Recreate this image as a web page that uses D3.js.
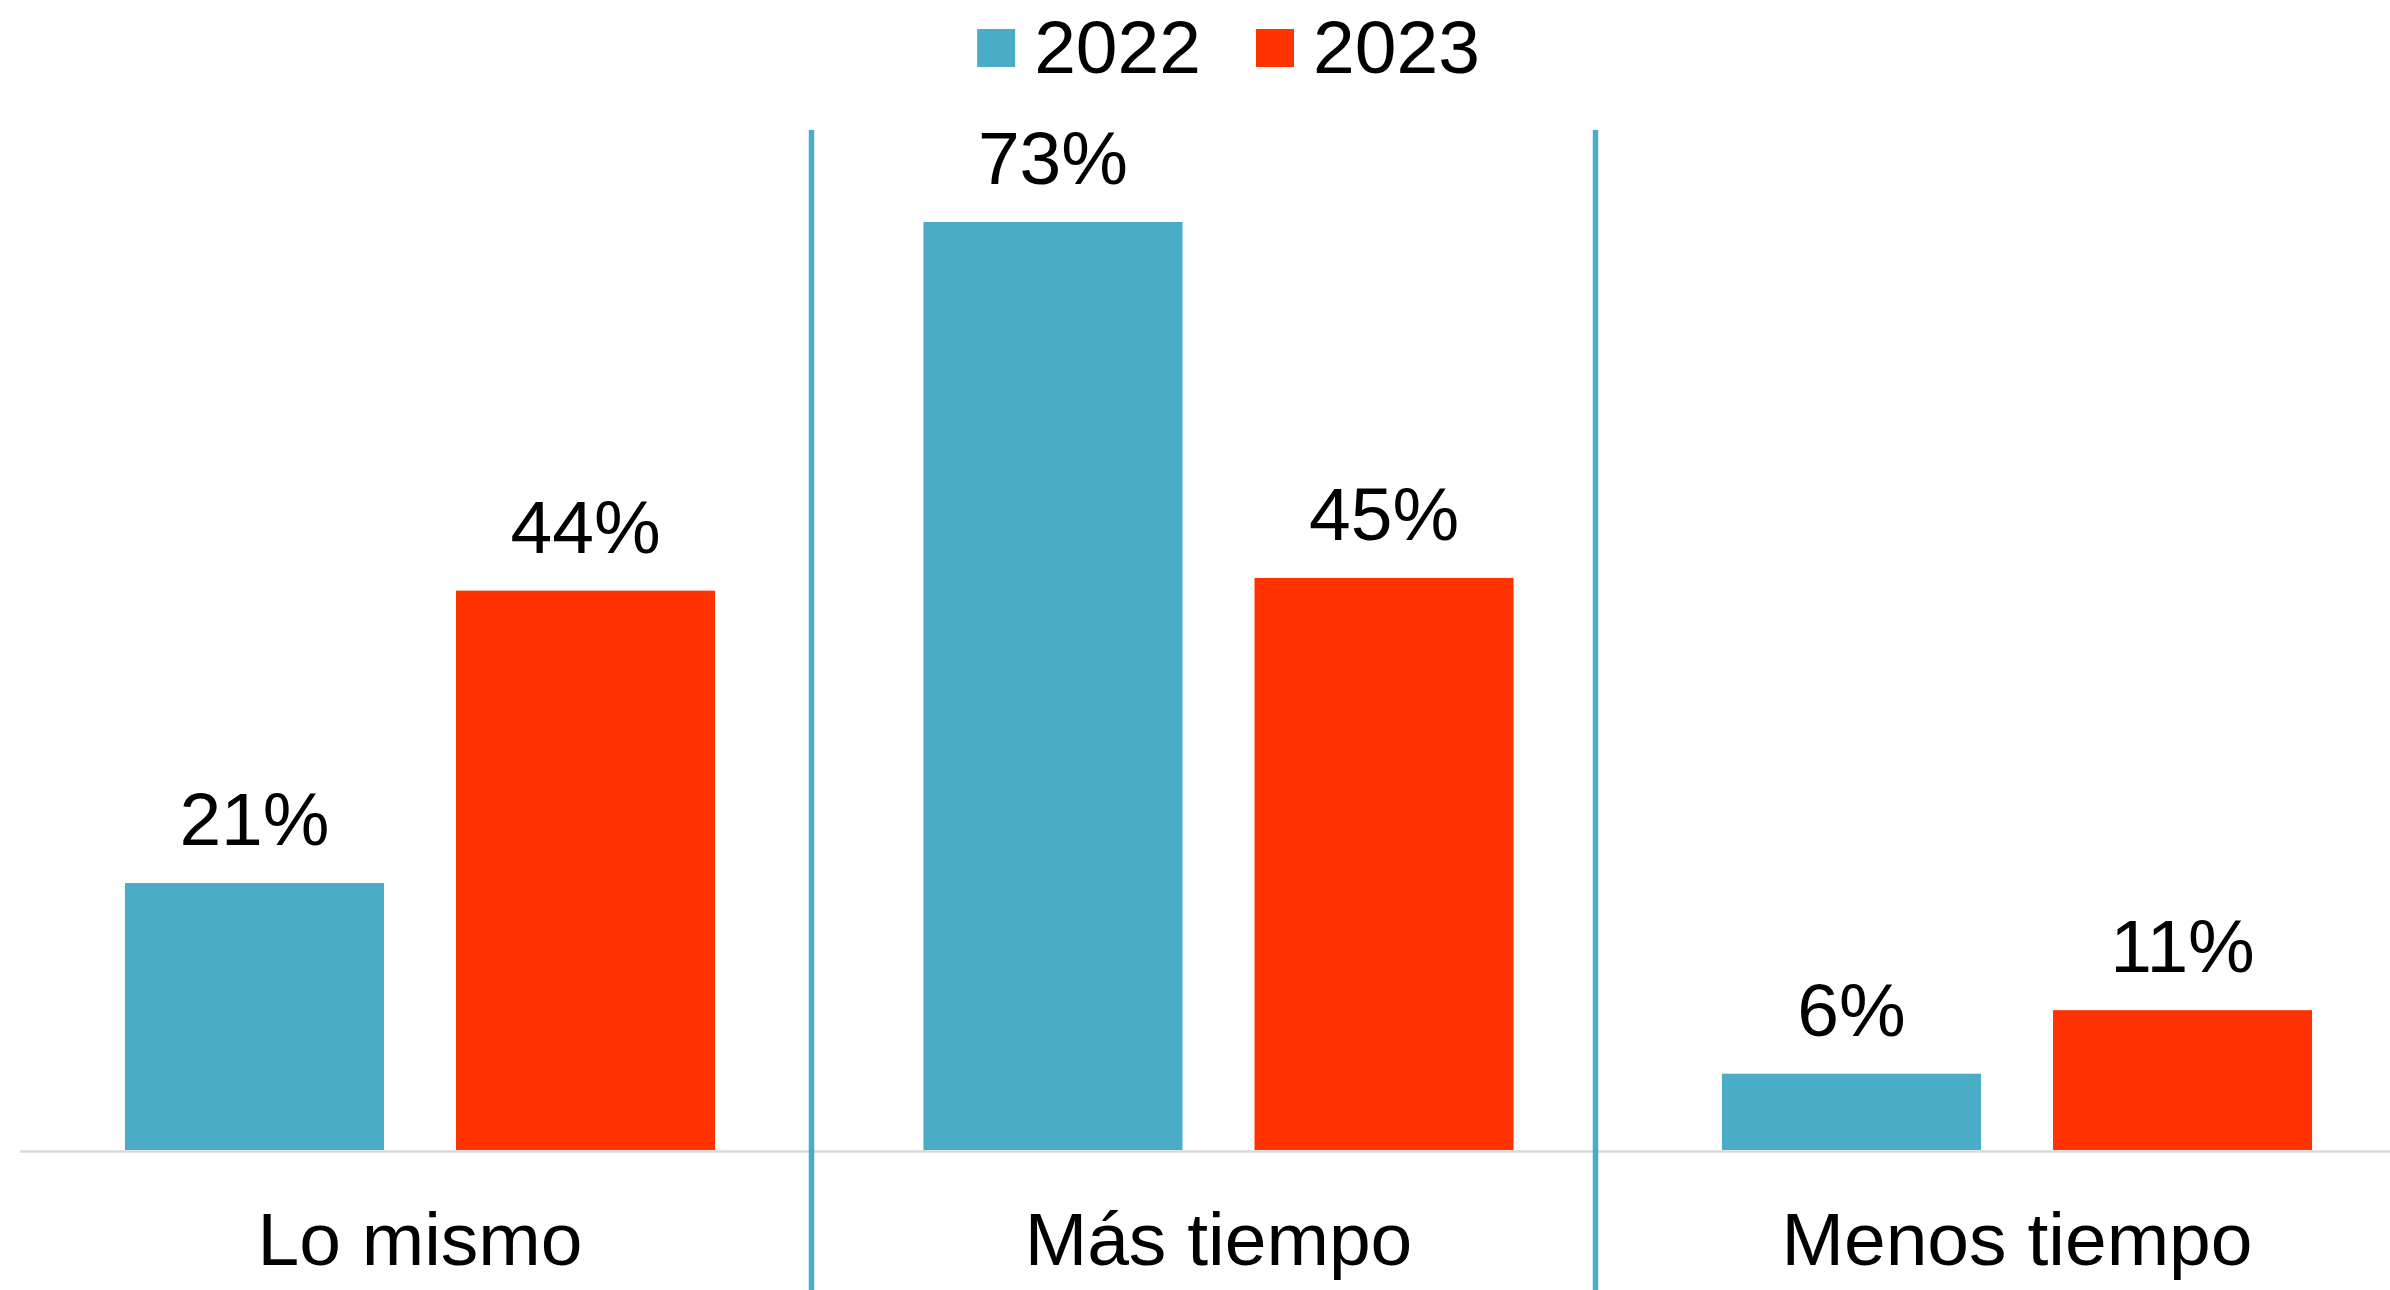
<!DOCTYPE html>
<html>
<head>
<meta charset="utf-8">
<script src="https://cdn.jsdelivr.net/npm/d3@7"></script>
<style>
  html, body { margin: 0; padding: 0; background: #ffffff; }
  svg { display: block; }
  text { font-family: "Liberation Sans", Arial, sans-serif; fill: #000; }
</style>
</head>
<body>
<svg id="chart" width="2390" height="1290"></svg>
<script>
const categories = ["Lo mismo", "Más tiempo", "Menos tiempo"];
const seriesNames = ["2022", "2023"];
const values2022 = [21, 73, 6];
const values2023 = [44, 45, 11];
const seriesColors = ["#4BACC6", "#FF3300"];

const W = 2390, H = 1290;
const baseY = 1150;
const fontSize = 75;

const svg = d3.select("#chart");

const x0 = d3.scaleBand()
  .domain(categories)
  .range([20.75, 2416.25])
  .paddingInner(0.261)
  .paddingOuter(0.1305);

const x1 = d3.scaleBand()
  .domain(seriesNames)
  .range([0, x0.bandwidth()])
  .paddingInner(0.2175)
  .paddingOuter(0);

const y = d3.scaleLinear().domain([0, 80]).range([baseY, baseY - 80 * 12.7125]);

const color = d3.scaleOrdinal().domain(seriesNames).range(seriesColors);

const rows = categories.map((c, i) => ({
  cat: c,
  vals: [
    { s: seriesNames[0], v: values2022[i] },
    { s: seriesNames[1], v: values2023[i] }
  ]
}));

// baseline
svg.append("line")
  .attr("x1", 20).attr("x2", W)
  .attr("y1", y(0) + 1.5).attr("y2", y(0) + 1.5)
  .attr("stroke", "#d9d9d9").attr("stroke-width", 2.5);

// groups
const g = svg.selectAll("g.grp").data(rows).join("g")
  .attr("class", "grp")
  .attr("transform", d => `translate(${x0(d.cat)},0)`);

g.selectAll("rect").data(d => d.vals).join("rect")
  .attr("x", d => x1(d.s))
  .attr("y", d => y(d.v))
  .attr("width", x1.bandwidth())
  .attr("height", d => y(0) - y(d.v))
  .attr("fill", d => color(d.s));

g.selectAll("text.val").data(d => d.vals).join("text")
  .attr("class", "val")
  .attr("x", d => x1(d.s) + x1.bandwidth() / 2)
  .attr("y", d => y(d.v) - 38)
  .attr("text-anchor", "middle")
  .attr("font-size", fontSize)
  .text(d => d.v + "%");

// category labels
svg.selectAll("text.cat").data(categories).join("text")
  .attr("class", "cat")
  .attr("x", d => x0(d) + x0.bandwidth() / 2)
  .attr("y", 1265)
  .attr("text-anchor", "middle")
  .attr("font-size", fontSize)
  .text(d => d);

// dividers (decorative)
const dividerX = [811.5, 1595.5];
svg.selectAll("line.div").data(dividerX).join("line")
  .attr("class", "div")
  .attr("x1", d => d).attr("x2", d => d)
  .attr("y1", 130).attr("y2", H)
  .attr("stroke", "#4BACC6").attr("stroke-width", 5.5);

// legend
const legend = svg.append("g");
const sq = 38, gapSqText = 19, gapItems = 55;
let cx = 0;
seriesNames.forEach((s, i) => {
  const it = legend.append("g").attr("transform", `translate(${cx},0)`);
  it.append("rect").attr("x", 0).attr("y", 29).attr("width", sq).attr("height", sq).attr("fill", color(s));
  const t = it.append("text").attr("x", sq + gapSqText).attr("y", 73)
    .attr("font-size", fontSize).text(s);
  const tw = t.node().getComputedTextLength();
  cx += sq + gapSqText + tw + gapItems;
});
const totalW = cx - gapItems;
legend.attr("transform", `translate(${1228.5 - totalW / 2},0)`);
</script>
</body>
</html>
